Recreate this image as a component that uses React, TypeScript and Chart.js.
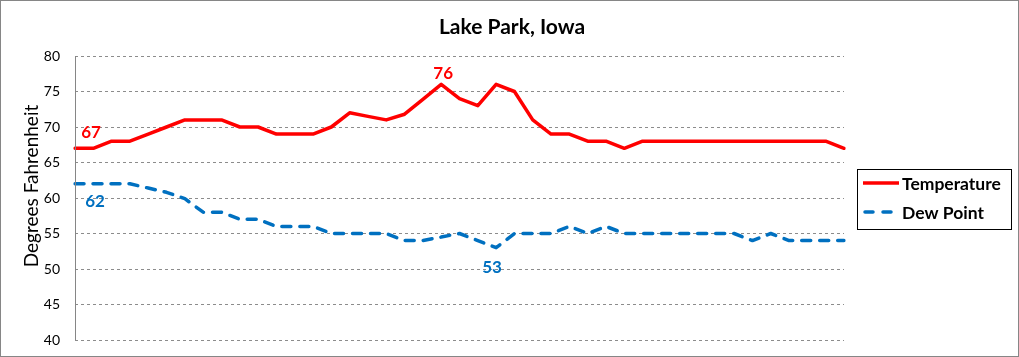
import React, { useEffect, useRef } from "react";
import { Chart, registerables } from "chart.js";

Chart.register(...registerables);

const TITLE = "Lake Park, Iowa";
const Y_TITLE = "Degrees Fahrenheit";
const SERIES_NAMES = ["Temperature", "Dew Point"];

const TEMPERATURE = [
  67, 67, 68, 68, 69, 70, 71, 71, 71, 70, 70, 69, 69, 69, 70, 72, 71.5, 71, 71.8, 73.9,
  76, 74, 73, 76, 75, 71, 69, 69, 68, 68, 67, 68, 68, 68, 68, 68, 68, 68, 68, 68,
  68, 68, 67,
];

const DEW_POINT = [
  62, 62, 62, 62, 61.4, 60.8, 59.9, 58, 58, 57, 57, 56, 56, 56, 55, 55, 55, 55, 54, 54,
  54.5, 55, 54, 53, 55, 55, 55, 56, 55, 56, 55, 55, 55, 55, 55, 55, 55, 54, 55, 54,
  54, 54, 54,
];

const CATEGORIES = TEMPERATURE.map((_, i) => String(i + 1));

const Y_MIN = 40;
const Y_MAX = 80;
const Y_STEP = 5;

// annotated points: [series index, data index]
const ANNOTATED = [
  [0, 0],
  [0, 20],
  [1, 0],
  [1, 23],
];

const FONT = 'Lato, "Liberation Sans", sans-serif';
const RED = "#FF0000";
const BLUE = "#0070C0";

export default function App() {
  const ref = useRef<HTMLCanvasElement | null>(null);

  useEffect(() => {
    document.body.style.margin = "0";
    const canvas = ref.current;
    if (!canvas) return;

    const labelOffsets = [
      [16, -16],
      [2, -11],
      [20, 18],
      [-4, 20],
    ];

    const plugin = {
      id: "decor",
      beforeDraw(chart: any) {
        const ctx = chart.ctx;
        ctx.save();
        ctx.fillStyle = "#fff";
        ctx.fillRect(0, 0, chart.width, chart.height);
        ctx.restore();
      },
      afterDraw(chart: any) {
        const ctx = chart.ctx;
        const xs = chart.scales.x;
        const ys = chart.scales.y;
        const area = chart.chartArea;
        ctx.save();
        // outer border
        ctx.strokeStyle = "#868686";
        ctx.lineWidth = 1;
        ctx.strokeRect(0.5, 0.5, chart.width - 1, chart.height - 1);

        // y axis line (solid)
        const ax = Math.round(area.left) + 0.5;
        ctx.beginPath();
        ctx.moveTo(ax, area.top);
        ctx.lineTo(ax, area.bottom);
        ctx.stroke();

        // title
        ctx.fillStyle = "#000";
        ctx.font = `bold 21px ${FONT}`;
        ctx.textAlign = "center";
        ctx.textBaseline = "middle";
        ctx.fillText(TITLE, 512, 27);

        // y title
        ctx.save();
        ctx.translate(32, 186);
        ctx.rotate(-Math.PI / 2);
        ctx.font = `19px ${FONT}`;
        ctx.fillText(Y_TITLE, 0, 0);
        ctx.restore();

        // data labels
        const seriesData = [TEMPERATURE, DEW_POINT];
        const seriesColor = [RED, BLUE];
        ctx.font = `bold 17px ${FONT}`;
        ANNOTATED.forEach(([s, idx], k) => {
          const v = seriesData[s][idx];
          const px = xs.getPixelForValue(idx);
          const py = ys.getPixelForValue(v);
          ctx.fillStyle = seriesColor[s];
          ctx.fillText(String(Math.round(v)), px + labelOffsets[k][0], py + labelOffsets[k][1]);
        });

        // legend
        const lx = 857, ly = 169, lw = 154, lh = 60;
        ctx.strokeStyle = "#000";
        ctx.lineWidth = 1;
        ctx.strokeRect(lx + 0.5, ly + 0.5, lw, lh);
        const rows = [183, 212];
        ctx.textAlign = "left";
        ctx.font = `bold 17.5px ${FONT}`;
        SERIES_NAMES.forEach((name, i) => {
          ctx.save();
          ctx.strokeStyle = seriesColor[i];
          ctx.lineWidth = 3.5;
          if (i === 1) {
            ctx.setLineDash([8, 10]);
            ctx.lineCap = "round";
            ctx.beginPath();
            ctx.moveTo(865, rows[i]);
            ctx.lineTo(897, rows[i]);
            ctx.stroke();
          } else {
            ctx.beginPath();
            ctx.moveTo(863, rows[i]);
            ctx.lineTo(899, rows[i]);
            ctx.stroke();
          }
          ctx.restore();
          ctx.fillStyle = "#000";
          ctx.fillText(name, 902, rows[i] + 1);
        });
        ctx.restore();
      },
    };

    const chart = new Chart(canvas, {
      type: "line",
      data: {
        labels: CATEGORIES,
        datasets: [
          {
            label: SERIES_NAMES[0],
            data: TEMPERATURE,
            borderColor: RED,
            backgroundColor: RED,
            borderWidth: 3.5,
            pointRadius: 0,
            tension: 0,
            borderJoinStyle: "round",
            borderCapStyle: "round",
          },
          {
            label: SERIES_NAMES[1],
            data: DEW_POINT,
            borderColor: BLUE,
            backgroundColor: BLUE,
            borderWidth: 3.5,
            borderDash: [9, 9],
            pointRadius: 0,
            tension: 0,
            borderJoinStyle: "round",
            borderCapStyle: "round",
          },
        ],
      },
      options: {
        responsive: false,
        maintainAspectRatio: false,
        animation: false,
        devicePixelRatio: 1,
        layout: { padding: { left: 0, right: 175, top: 56, bottom: 17 } },
        plugins: {
          legend: { display: false },
          title: { display: false },
          tooltip: { enabled: false },
        },
        scales: {
          x: {
            display: false,
          },
          y: {
            min: Y_MIN,
            max: Y_MAX,
            ticks: {
              stepSize: Y_STEP,
              color: "#000",
              font: { family: FONT, size: 14 },
              padding: 15,
            },
            grid: {
              color: "#8c8c8c",
              lineWidth: 1,
              drawTicks: false,
            },
            border: {
              display: false,
              dash: [3, 3],
            },
            afterFit(scale: any) {
              scale.width = 75;
              scale.paddingTop = 0;
              scale.paddingBottom = 0;
            },
          },
        },
      },
      plugins: [plugin],
    });

    return () => chart.destroy();
  }, []);

  return (
    <div style={{ width: 1019, height: 357 }}>
      <canvas ref={ref} width={1019} height={357} style={{ display: "block", width: 1019, height: 357 }} />
    </div>
  );
}
